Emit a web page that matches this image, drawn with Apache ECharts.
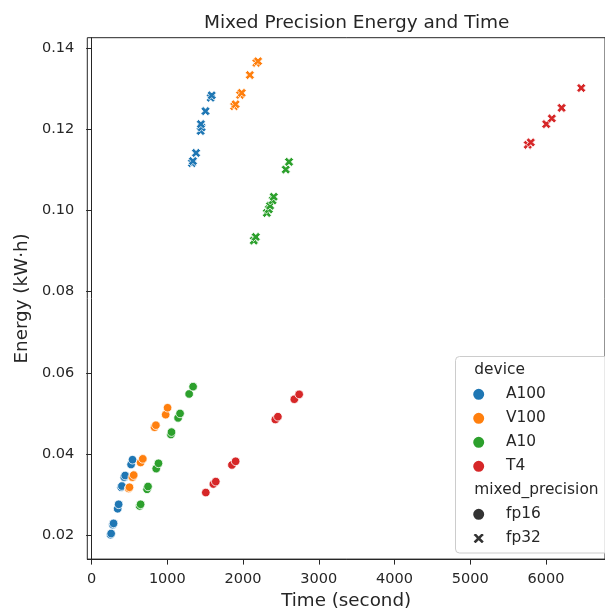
<!DOCTYPE html>
<html>
<head>
<meta charset="utf-8">
<script src="https://cdn.jsdelivr.net/npm/echarts@6/dist/echarts.min.js"></script>
<style>
html,body{margin:0;padding:0;background:#fff;}
#chart{width:605px;height:615px;}
</style>
</head>
<body>
<div id="chart"></div>
<script>
// ---- data (time in seconds, energy in kW·h) ----
const devices = ['A100', 'V100', 'A10', 'T4'];
const precisions = ['fp16', 'fp32'];
const xTickValues = [0, 1000, 2000, 3000, 4000, 5000, 6000];
const yTickValues = [0.02, 0.04, 0.06, 0.08, 0.10, 0.12, 0.14];

const a100Fp16 = [[250,0.0201],[258,0.0204],[280,0.0226],[290,0.0229],[344,0.0265],[357,0.0276],[390,0.0318],[400,0.0321],[431,0.0343],[443,0.0347],[521,0.0374],[540,0.0386]];
const a100Fp32 = [[1326,0.1117],[1338,0.1122],[1379,0.1142],[1440,0.1196],[1452,0.1205],[1443,0.1213],[1504,0.1245],[1573,0.1278],[1586,0.1284]];
const v100Fp16 = [[490,0.0315],[500,0.0318],[538,0.0343],[556,0.0348],[647,0.0379],[676,0.0388],[831,0.0466],[849,0.0471],[978,0.0497],[1003,0.0514]];
const v100Fp32 = [[1883,0.1257],[1901,0.1262],[1961,0.1285],[1982,0.1290],[2090,0.1334],[2176,0.1364],[2198,0.1368]];
const a10Fp16 = [[634,0.0272],[647,0.0276],[732,0.0313],[745,0.0320],[853,0.0364],[883,0.0377],[1047,0.0448],[1055,0.0454],[1142,0.0489],[1168,0.0500],[1288,0.0548],[1340,0.0566]];
const a10Fp32 = [[2142,0.0926],[2168,0.0935],[2314,0.0994],[2340,0.1003],[2357,0.1012],[2390,0.1025],[2405,0.1034],[2564,0.1101],[2607,0.1120]];
const t4Fp16 = [[1508,0.0305],[1608,0.0326],[1640,0.0332],[1853,0.0373],[1902,0.0382],[2426,0.0485],[2460,0.0492],[2677,0.0535],[2741,0.0547]];
const t4Fp32 = [[5760,0.1162],[5800,0.1168],[6004,0.1213],[6078,0.1227],[6207,0.1253],[6466,0.1302]];

const groups = {
  A100: { fp16: a100Fp16, fp32: a100Fp32 },
  V100: { fp16: v100Fp16, fp32: v100Fp32 },
  A10:  { fp16: a10Fp16,  fp32: a10Fp32 },
  T4:   { fp16: t4Fp16,   fp32: t4Fp32 }
};

// ---- styling ----
const palette = { A100: '#1f77b4', V100: '#ff7f0e', A10: '#2ca02c', T4: '#d62728' };
const xMarker = 'path://M1 0L2 1L3 0L4 1L3 2L4 3L3 4L2 3L1 4L0 3L1 2L0 1Z';
const markerOf = { fp16: 'circle', fp32: xMarker };
const FONT = 'DejaVu Sans';
const ink = '#262626';

const series = [];
devices.forEach(d => {
  precisions.forEach(p => {
    series.push({
      name: d + ' ' + p,
      type: 'scatter',
      data: groups[d][p],
      symbol: markerOf[p],
      symbolSize: p === 'fp16' ? 8.6 : 9.2,
      itemStyle: { color: palette[d], borderColor: '#ffffff', borderWidth: 0.8, opacity: 1 },
      emphasis: { disabled: true },
      z: 2
    });
  });
});
// legend-only series
devices.forEach(d => {
  series.push({ name: d, type: 'scatter', data: [], symbol: 'circle',
    itemStyle: { color: palette[d], borderColor: '#fff', borderWidth: 0.8, opacity: 1 } });
});
precisions.forEach(p => {
  series.push({ name: p, type: 'scatter', data: [], symbol: markerOf[p],
    itemStyle: { color: '#333333', borderColor: '#fff', borderWidth: 0.8, opacity: 1 } });
});

const legendCommon = {
  orient: 'vertical', left: 471.2, padding: 0,
  itemWidth: 13, itemHeight: 13, itemGap: 0, selectedMode: false,
  textStyle: { fontFamily: FONT, fontSize: 15.4, color: ink, lineHeight: 24, padding: [0, 0, 0, 15.8] },
  z: 6
};

const chart = echarts.init(document.getElementById('chart'), null, { renderer: 'canvas' });
chart.setOption({
  animation: false,
  backgroundColor: '#ffffff',
  title: {
    text: 'Mixed Precision Energy and Time',
    left: 351.7, top: 9, textAlign: 'center',
    textStyle: { fontFamily: FONT, fontSize: 18.5, fontWeight: 'normal', color: ink }
  },
  grid: {
    left: 87.3, top: 37.7, right: -11, bottom: 53.3,
    show: true, borderColor: ink, borderWidth: 1, backgroundColor: 'transparent'
  },
  xAxis: {
    type: 'value', min: -57, max: 6780,
    name: 'Time (second)', nameLocation: 'middle', nameGap: 31,
    nameTextStyle: { fontFamily: FONT, fontSize: 18.3, color: ink },
    axisLine: { show: true, lineStyle: { color: ink, width: 1 } },
    axisTick: { show: true, length: 5.5, lineStyle: { color: ink, width: 1 }, customValues: xTickValues },
    axisLabel: { fontFamily: FONT, fontSize: 14.5, color: ink, margin: 13, customValues: xTickValues,
      formatter: v => String(v) },
    splitLine: { show: false }
  },
  yAxis: {
    type: 'value', min: 0.0141, max: 0.1426,
    name: 'Energy (kW·h)', nameLocation: 'middle', nameGap: 53, nameRotate: 90,
    nameTextStyle: { fontFamily: FONT, fontSize: 18.3, color: ink },
    axisLine: { show: true, lineStyle: { color: ink, width: 1 } },
    axisTick: { show: true, length: 5.5, lineStyle: { color: ink, width: 1 }, customValues: yTickValues },
    axisLabel: { fontFamily: FONT, fontSize: 14.5, color: ink, margin: 13, customValues: yTickValues,
      formatter: v => v.toFixed(2) },
    splitLine: { show: false }
  },
  legend: [
    Object.assign({}, legendCommon, { data: devices, top: 382.3 }),
    Object.assign({}, legendCommon, { data: precisions, top: 502.3 })
  ],
  graphic: [
    { type: 'rect', z: 4, silent: true,
      shape: { x: 455.5, y: 356.5, width: 200, height: 196.5, r: 4 },
      style: { fill: 'rgba(255,255,255,0.8)', stroke: '#cccccc', lineWidth: 1 } },
    { type: 'text', z: 6, silent: true, x: 474.3, y: 370,
      style: { text: 'device', fontFamily: FONT, fontSize: 15.4, fill: ink, textAlign: 'left', textVerticalAlign: 'middle' } },
    { type: 'text', z: 6, silent: true, x: 474.3, y: 490,
      style: { text: 'mixed_precision', fontFamily: FONT, fontSize: 15.4, fill: ink, textAlign: 'left', textVerticalAlign: 'middle' } }
  ],
  series: series
});
</script>
</body>
</html>
